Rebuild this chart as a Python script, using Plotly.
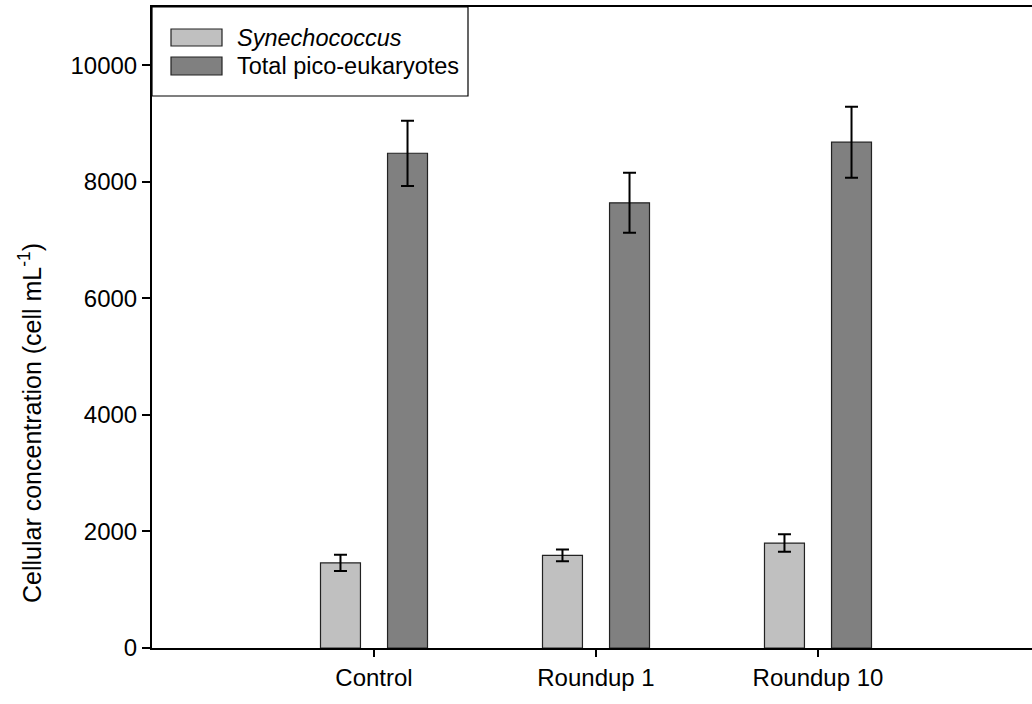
import plotly.graph_objects as go

# ---- data ----
categories = ["Control", "Roundup 1", "Roundup 10"]
series_names = ["<i>Synechococcus</i>", "Total pico-eukaryotes"]
syn_values = [1460, 1590, 1800]
syn_errors = [140, 100, 150]
euk_values = [8490, 7640, 8680]
euk_errors = [560, 515, 610]
y_ticks = [0, 2000, 4000, 6000, 8000, 10000]
y_tick_labels = ["0", "2000", "4000", "6000", "8000", "10000"]

# ---- style ----
W, H = 1032, 704
ML, MR, MT, MB = 152, 0, 7, 56
FONT = "Liberation Sans, Arial, sans-serif"
colors = ["#c0c0c0", "#808080"]
outline = "#222222"

x_pos = list(range(len(categories)))

fig = go.Figure()
for name, vals, errs, col in [
    (series_names[0], syn_values, syn_errors, colors[0]),
    (series_names[1], euk_values, euk_errors, colors[1]),
]:
    fig.add_trace(go.Bar(
        x=x_pos, y=vals, name=name,
        marker=dict(color=col, line=dict(color=outline, width=1.2)),
        error_y=dict(type="data", array=errs, visible=True,
                     color="black", thickness=2, width=6.5),
        showlegend=False,
    ))

# custom legend (box + swatches + labels) in pixel -> paper coords
pw = W - ML - MR
ph = H - MT - MB
def px_x(p):
    return (p - ML) / pw
def px_y(p):
    return (H - MB - p) / ph

shapes = [dict(type="rect", xref="paper", yref="paper",
               x0=px_x(152), x1=px_x(468), y0=px_y(96), y1=px_y(7),
               line=dict(color="black", width=1.2), fillcolor="white", layer="above")]
annotations = []
legend_rows = [(29, 46, 38), (57, 75, 66)]
for (top, bot, mid), name, col in zip(legend_rows, series_names, colors):
    shapes.append(dict(type="rect", xref="paper", yref="paper",
                       x0=px_x(171), x1=px_x(222), y0=px_y(bot), y1=px_y(top),
                       line=dict(color=outline, width=1.2), fillcolor=col, layer="above"))
    annotations.append(dict(xref="paper", yref="paper", x=px_x(235), y=px_y(mid),
                            xanchor="left", yanchor="middle", showarrow=False,
                            text=name, font=dict(family=FONT, size=23.5, color="black")))

annotations.append(dict(
    xref="paper", yref="paper", x=px_x(30), y=px_y(423),
    xanchor="center", yanchor="middle", showarrow=False, textangle=-90,
    text="Cellular concentration (cell mL<sup>-1</sup>)",
    font=dict(family=FONT, size=25, color="black")))

fig.update_layout(
    width=W, height=H,
    margin=dict(l=ML, r=MR, t=MT, b=MB, pad=0),
    paper_bgcolor="white", plot_bgcolor="white",
    barmode="group", bargap=0.396, bargroupgap=0.404,
    font=dict(family=FONT, size=24, color="black"),
    shapes=shapes, annotations=annotations,
)
fig.update_xaxes(
    range=[-1, 2.964], tickmode="array", tickvals=x_pos, ticktext=categories,
    showline=True, linecolor="black", linewidth=2, mirror=True,
    ticks="outside", ticklen=7, tickwidth=1.5, tickcolor="black",
    showgrid=False, zeroline=False, tickfont=dict(size=24),
)
fig.update_yaxes(
    range=[0, 11000], tickmode="array", tickvals=y_ticks, ticktext=y_tick_labels,
    showline=True, linecolor="black", linewidth=2,
    ticks="outside", ticklen=8, tickwidth=1.5, tickcolor="black",
    showgrid=False, zeroline=False, tickfont=dict(size=24),
)

fig.write_html("out.html")
